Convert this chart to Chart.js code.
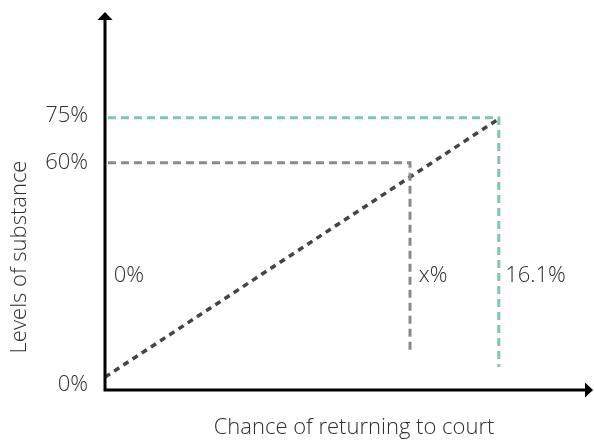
<!DOCTYPE html>
<html>
<head>
    <title>Levels of substance vs chance of returning to court</title>
    <script src="https://cdn.jsdelivr.net/npm/chart.js@4.4.0/dist/chart.umd.min.js"></script>
    <style>
        body {
            margin: 0;
            background: #fff;
        }

        #wrap {
            width: 594px;
            height: 441px;
            position: relative;
        }
    </style>
</head>
<body>
    <div id="wrap">
        <canvas id="chart"></canvas>
    </div>

    <script>
        // values on an abstract 0-100 scale for both axes
        const diagX = [0, 80.3];
        const diagY = [3.4, 71.4];
        const greenX = [0.6, 80.7, 80.7];
        const greenY = [72, 72, 6.1];
        const greyX = [0.6, 62.5, 62.5];
        const greyY = [60.1, 60.1, 10.3];

        const yTickValues = [72.5, 60.1, 1.3];
        const yTickLabels = ['75%', '60%', '0%'];

        const noteLabels = ['0%', 'x%', '16.1%'];
        const noteX = [1.8, 64.3, 82.0];
        const noteY = 30.2;

        const xTitle = 'Chance of returning to court';
        const yTitle = 'Levels of substance';

        const FONT = '"Open Sans", "DejaVu Sans", sans-serif';

        function pts(xs, ys) {
            return xs.map((x, i) => ({ x: x, y: ys[i] }));
        }

        // draws the arrow axes, tick labels, notes and titles
        const decorations = {
            id: 'decorations',
            afterDatasetsDraw(chart) {
                const ctx = chart.ctx;
                const xs = chart.scales.x;
                const ys = chart.scales.y;
                const x0 = xs.getPixelForValue(0);
                const y0 = ys.getPixelForValue(0);
                const xEnd = xs.getPixelForValue(100);
                const yEnd = ys.getPixelForValue(100);

                ctx.save();
                ctx.strokeStyle = '#000';
                ctx.fillStyle = '#000';
                ctx.lineWidth = 3;
                ctx.beginPath();
                ctx.moveTo(x0, yEnd + 6);
                ctx.lineTo(x0, y0);
                ctx.lineTo(xEnd - 6, y0);
                ctx.stroke();

                ctx.beginPath();
                ctx.moveTo(x0, yEnd);
                ctx.lineTo(x0 - 7.5, yEnd + 8);
                ctx.lineTo(x0 + 7.5, yEnd + 8);
                ctx.closePath();
                ctx.fill();

                ctx.beginPath();
                ctx.moveTo(xEnd, y0);
                ctx.lineTo(xEnd - 8, y0 - 7.5);
                ctx.lineTo(xEnd - 8, y0 + 7.5);
                ctx.closePath();
                ctx.fill();

                ctx.fillStyle = '#2e2e2e';
                ctx.font = '300 22px ' + FONT;
                ctx.textBaseline = 'middle';
                ctx.textAlign = 'right';
                yTickValues.forEach((v, i) => {
                    ctx.fillText(yTickLabels[i], x0 - 17, ys.getPixelForValue(v));
                });

                ctx.textAlign = 'left';
                noteLabels.forEach((t, i) => {
                    ctx.fillText(t, xs.getPixelForValue(noteX[i]), ys.getPixelForValue(noteY));
                });

                ctx.textAlign = 'center';
                ctx.fillText(xTitle, (x0 + xEnd) / 2 + 5, y0 + 38);

                ctx.translate(20, (yEnd + y0) / 2 + 56);
                ctx.rotate(-Math.PI / 2);
                ctx.fillText(yTitle, 0, 0);
                ctx.restore();
            }
        };

        new Chart(document.getElementById('chart'), {
            type: 'scatter',
            data: {
                datasets: [{
                    data: pts(greenX, greenY),
                    showLine: true,
                    borderColor: '#7cc6b2',
                    borderWidth: 3,
                    borderDash: [8, 5],
                    pointRadius: 0
                }, {
                    data: pts(greyX, greyY),
                    showLine: true,
                    borderColor: '#8a8a8a',
                    borderWidth: 3,
                    borderDash: [8, 5],
                    pointRadius: 0
                }, {
                    data: pts(diagX, diagY),
                    showLine: true,
                    borderColor: '#444',
                    borderWidth: 3.5,
                    borderDash: [6, 5],
                    pointRadius: 0
                }]
            },
            options: {
                responsive: true,
                maintainAspectRatio: false,
                animation: false,
                layout: {
                    padding: { left: 105, right: 1, top: 12, bottom: 51 }
                },
                plugins: {
                    legend: { display: false },
                    tooltip: { enabled: false }
                },
                scales: {
                    x: { type: 'linear', min: 0, max: 100, display: false },
                    y: { type: 'linear', min: 0, max: 100, display: false }
                }
            },
            plugins: [decorations]
        });
    </script>
</body>
</html>
